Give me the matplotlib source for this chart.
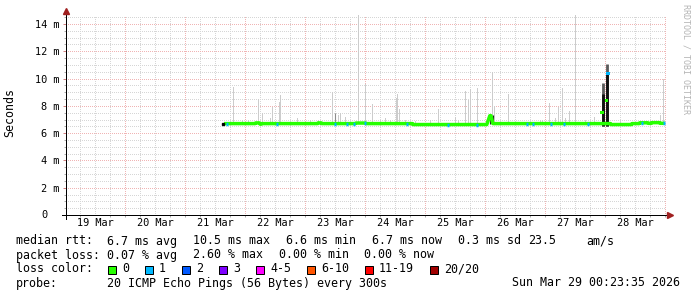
import numpy as np
import matplotlib
matplotlib.use("Agg")
import matplotlib.pyplot as plt
from matplotlib.patches import Rectangle

plt.rcParams["font.family"] = "DejaVu Sans Mono"

W, H = 697, 297
FS_LEG = 8.4      # legend / unit text
FS_AX = 7.35      # axis labels

# time axis in days since Mar 19 00:00, graph ends Sun Mar 29 00:23:35
T0, T1 = 0.0164, 10.0164
YMAX = 14.66

DAY_LABELS = ["19 Mar", "20 Mar", "21 Mar", "22 Mar", "23 Mar",
              "24 Mar", "25 Mar", "26 Mar", "27 Mar", "28 Mar"]
DAY_POS = [0.5, 1.5, 2.5, 3.5, 4.5, 5.5, 6.5, 7.5, 8.5, 9.5]
Y_TICKS = [0, 2, 4, 6, 8, 10, 12, 14]

# median rtt (ms)
med_t = [2.65, 3.17, 3.18, 3.24, 3.25, 3.27, 3.28, 4.21, 4.22, 4.27, 4.28, 4.84, 4.85,
         5.01, 5.02, 5.79, 5.80, 7.03, 7.08, 7.10, 7.13, 7.14, 9.09, 9.10, 9.44, 9.45,
         9.57, 9.58, 9.71, 9.72, 9.77, 9.78, 9.91, 9.92, 10.0]
med_v = [6.70, 6.70, 6.75, 6.75, 6.66, 6.66, 6.70, 6.70, 6.75, 6.75, 6.70, 6.70, 6.74,
         6.74, 6.70, 6.70, 6.63, 6.63, 7.28, 7.28, 6.70, 6.70, 6.70, 6.63, 6.63, 6.70,
         6.70, 6.76, 6.76, 6.72, 6.72, 6.77, 6.77, 6.72, 6.72]

# isolated median points during the loss burst on 27 Mar
burst_t = [8.95, 9.03, 9.05]
burst_v = [7.5, 8.4, 10.4]
burst_loss = [0, 0, 1]

# one lost ping (loss colour "1") along the median
loss1_t = [2.70, 3.53, 4.50, 4.70, 4.82, 5.00, 5.70, 6.38, 6.87, 7.70, 7.80,
           8.10, 8.32, 8.72, 9.62, 9.98]

# smoke: light spikes (max rtt of the 20 pings)
smoke_t = [2.80, 2.95, 3.05, 3.22, 3.28, 3.42, 3.45, 3.57, 3.58, 3.87, 4.08, 4.22,
           4.45, 4.55, 4.58, 4.67, 4.88, 5.00, 5.12, 5.25, 5.33, 5.42, 5.52, 5.53,
           5.57, 5.67, 5.83, 6.08, 6.22, 6.50, 6.55, 6.67, 6.72, 6.75, 6.87, 7.12,
           7.15, 7.38, 7.92, 7.95, 8.07, 8.17, 8.22, 8.28, 8.33, 8.40, 8.50, 8.67,
           8.82, 9.25, 9.75, 9.92, 9.97]
smoke_top = [9.4, 7.0, 6.95, 8.5, 7.5, 7.1, 7.9, 8.3, 8.8, 7.1, 6.95, 7.0,
             9.0, 7.3, 7.5, 7.2, 14.66, 9.6, 8.1, 7.0, 7.1, 7.0, 8.6, 8.9,
             7.8, 7.0, 6.9, 6.95, 7.8, 7.2, 7.0, 9.1, 8.4, 9.2, 9.3, 10.5,
             8.0, 8.9, 7.0, 7.0, 8.2, 7.1, 7.9, 9.3, 7.1, 7.6, 14.66, 6.95,
             7.2, 7.0, 7.0, 7.3, 10.0]
# denser smoke
dense_t = [4.50, 7.08, 7.13]
dense_top = [7.5, 7.3, 7.3]
# dark smoke of the 27 Mar burst: grey top, black core
dark_t = [8.96, 9.04]
dark_top = [9.7, 11.1]
black_top = [8.9, 10.5]

LOSS_LABELS = ["0", "1", "2", "3", "4-5", "6-10", "11-19", "20/20"]
LOSS_COLORS = ["#26ff00", "#00b8ff", "#0059ff", "#7e00ff", "#ff00ff",
               "#ff5500", "#ff0000", "#a00000"]

RTT_TEXT = [(16, "median rtt:"), (107, "6.7 ms avg"), (193, "10.5 ms max"),
            (286, "6.6 ms min"), (372, "6.7 ms now"), (458, "0.3 ms sd"),
            (528, "23.5"), (586, "am/s")]
LOSS_TEXT = [(16, "packet loss:"), (107, "0.07 % avg"), (193, "2.60 % max"),
             (279, "0.00 % min"), (364, "0.00 % now")]
PROBE = "20 ICMP Echo Pings (56 Bytes) every 300s"
STAMP = "Sun Mar 29 00:23:35 2026"


def fx(x):
    return x / W


def fy(y):
    return 1 - y / H


fig = plt.figure(figsize=(W / 100, H / 100), dpi=100)
fig.patch.set_facecolor("white")
ax = fig.add_axes([66 / W, 82 / H, 600 / W, 200 / H])
ax.set_xlim(T0, T1)
ax.set_ylim(0, YMAX)
for s in ax.spines.values():
    s.set_visible(False)

# grid (dotted, rrdtool style)
px = 0.72
dots = (0, (1, 2))
MINOR_C, MAJOR_C = "#d6d6d6", "#f0b4b4"
q = np.arange(0.25, 10.01, 0.25)
h = np.arange(0.5, YMAX, 0.5)
grid = [
    ax.vlines(q[q % 1 != 0], 0, YMAX, colors=MINOR_C, lw=px, linestyles=dots, zorder=0),
    ax.vlines(np.arange(1, 11), 0, YMAX, colors=MAJOR_C, lw=px, linestyles=dots, zorder=0),
    ax.hlines(h[h % 2 != 0], T0, T1, colors=MINOR_C, lw=px, linestyles=dots, zorder=0),
    ax.hlines(np.arange(2, 15, 2), T0, T1, colors=MAJOR_C, lw=px, linestyles=dots, zorder=0),
]
for g in grid:
    g.set_antialiased(False)

# smoke
base = np.interp(smoke_t, med_t, med_v)
sm = ax.vlines(smoke_t, base, smoke_top, colors="#cccccc", lw=px, zorder=1)
sm.set_antialiased(False)
ax.vlines(dense_t, 6.65, dense_top, colors=["#8c8c8c", "#202020", "#202020"], lw=0.8, zorder=1)
ax.vlines(dark_t, 6.55, dark_top, colors="#5a5a5a", lw=2.0, zorder=2)
ax.vlines(dark_t, 6.55, black_top, colors="#101010", lw=2.0, zorder=2)

# median, coloured by loss
ax.plot(med_t, med_v, color=LOSS_COLORS[0], lw=2.5, solid_capstyle="butt", zorder=3)
lv = np.interp(loss1_t, med_t, med_v)
ax.hlines(lv, np.array(loss1_t) - 0.017, np.array(loss1_t) + 0.017,
          colors=LOSS_COLORS[1], lw=2.5, zorder=4)
ax.scatter(burst_t, burst_v, c=[LOSS_COLORS[k] for k in burst_loss], marker="s",
           s=5, linewidths=0, zorder=4)
ax.plot([med_t[0] - 0.02], [med_v[0]], "s", color="black", ms=1.6, zorder=4)

# ticks and labels
ax.set_xticks(DAY_POS, DAY_LABELS, fontsize=FS_AX)
ax.set_xticks(q, minor=True)
ax.tick_params(axis="x", which="major", length=0, pad=2.5)
ax.tick_params(axis="x", which="minor", length=1.6, width=px, color="#aaaaaa")
ax.set_yticks(Y_TICKS[1:], [f"{v} m" for v in Y_TICKS[1:]], fontsize=FS_AX)
ax.set_yticks(h, minor=True)
ax.tick_params(axis="y", which="major", length=2.2, width=px, color="#d08080", pad=2.4)
ax.tick_params(axis="y", which="minor", length=1.6, width=px, color="#aaaaaa")
ax.annotate(str(Y_TICKS[0]), (0, 0), xycoords="axes fraction", xytext=(-22, 0),
            textcoords="offset pixels", ha="center", va="center", fontsize=FS_AX)

# axes with arrows
ax.plot([-0.007, 1.006], [0, 0], transform=ax.transAxes, color="black", lw=px,
        clip_on=False, zorder=6)
ax.plot([1.007], [0], transform=ax.transAxes, marker=">", ms=4.5, color="#a02020",
        clip_on=False, zorder=6)
ax.plot([0, 0], [-0.02, 1.02], transform=ax.transAxes, color="black", lw=px,
        clip_on=False, zorder=6)
ax.plot([0], [1.022], transform=ax.transAxes, marker="^", ms=4.5, color="#a02020",
        clip_on=False, zorder=6)

fig.text(fx(10), fy(113), "Seconds", rotation=90, ha="center", va="center", fontsize=FS_LEG)
fig.text(fx(686), fy(4), "RRDTOOL / TOBI OETIKER", rotation=270, ha="center", va="top",
         fontsize=6, color="#b4b4b4")

# legend text
for x, s in RTT_TEXT:
    fig.text(fx(x), fy(241), s, ha="left", va="center", fontsize=FS_LEG)
for x, s in LOSS_TEXT:
    fig.text(fx(x), fy(255), s, ha="left", va="center", fontsize=FS_LEG)
fig.text(fx(16), fy(269), "loss color:", ha="left", va="center", fontsize=FS_LEG)
x = 108
for lab, col in zip(LOSS_LABELS, LOSS_COLORS):
    fig.patches.append(Rectangle((fx(x), fy(273.5)), 8 / W, 8 / H, transform=fig.transFigure,
                                 facecolor=col, edgecolor="black", lw=0.72))
    fig.text(fx(x + 14), fy(269), lab, ha="left", va="center", fontsize=FS_LEG)
    x += 30 + 7 * len(lab)
fig.text(fx(16), fy(283), "probe:", ha="left", va="center", fontsize=FS_LEG)
fig.text(fx(107), fy(283), PROBE, ha="left", va="center", fontsize=FS_LEG)
fig.text(fx(680), fy(283), STAMP, ha="right", va="center", fontsize=FS_LEG)

fig.savefig("out.png", dpi=100)
